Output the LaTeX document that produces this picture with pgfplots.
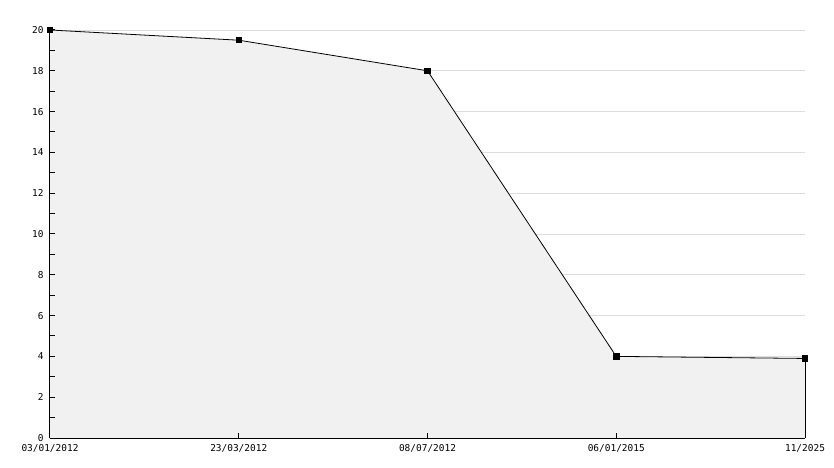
\documentclass[border=0pt]{standalone}
\usepackage{fontspec}
\setmonofont{DejaVu Sans Mono}
\usepackage{pgfplots}
\pgfplotsset{compat=1.18}
\definecolor{areafill}{HTML}{F1F1F1}
\definecolor{gridc}{HTML}{DDDDDD}
\begin{document}
\begin{tikzpicture}
\useasboundingbox (-50bp,-30bp) rectangle (784bp,438bp);
\begin{axis}[
  axis on top,
  at={(0,0)}, anchor=south west,
  scale only axis, width=755bp, height=408bp,
  xmin=0, xmax=4, ymin=0, ymax=20,
  axis x line=bottom, axis y line=left,
  axis line style={-, line width=1bp, black},
  xtick={0,1,2,3,4},
  xticklabels={03/01/2012,23/03/2012,08/07/2012,06/01/2015,11/2025},
  ytick={0,2,...,20},
  minor y tick num=1,
  tick align=inside,
  major tick length=5bp, minor tick length=5bp,
  tick style={black, line width=1bp},
  ticklabel style={font=\ttfamily\fontsize{9.5}{10}\selectfont},
  /pgf/number format/assume math mode=true,
  yticklabel style={xshift=-3bp},
  xticklabel style={yshift=-3bp},
  clip=false,
]
\pgfplotsinvokeforeach{2,4,...,20}{
  \draw[gridc, line width=0.8bp] (axis cs:0,#1) -- (axis cs:4,#1);
}
\addplot[fill=areafill, draw=none] coordinates {(0,20) (1,19.5) (2,18) (3,4) (4,3.9)} \closedcycle;
\addplot[black, line width=0.8bp, mark=square*, mark size=2.7bp, mark options={rounded corners=0.9bp}] coordinates {(0,20) (1,19.5) (2,18) (3,4) (4,3.9)};
\addplot[black, line width=1bp] coordinates {(4,3.9) (4,0)};
\end{axis}
\end{tikzpicture}
\end{document}
